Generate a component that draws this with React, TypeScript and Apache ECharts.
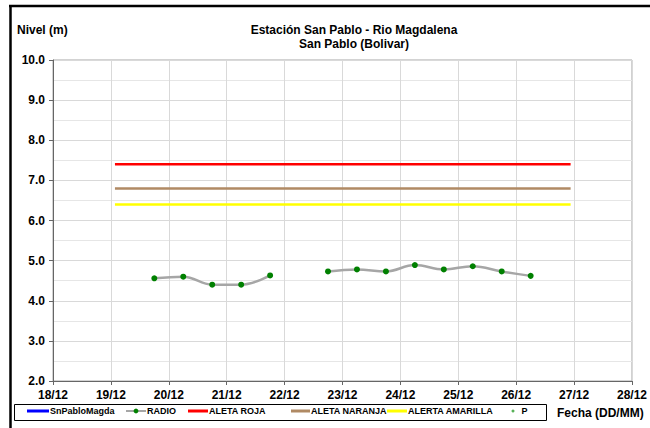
import React, { useEffect, useRef } from "react";
import * as echarts from "echarts";

// x values are days since 18/12 00:00
const xTickLabels = ["18/12", "19/12", "20/12", "21/12", "22/12", "23/12", "24/12", "25/12", "26/12", "27/12", "28/12"];
const radioX = [1.75, 2.25, 2.75, 3.25, 3.75, 4.25, 4.75, 5.25, 5.75, 6.25, 6.75, 7.25, 7.75, 8.25];
const radioY: (number | null)[] = [4.56, 4.6, 4.4, 4.4, 4.63, null, 4.73, 4.78, 4.73, 4.89, 4.78, 4.86, 4.73, 4.62];
const alertX = [1.07, 8.94];
const alertaRoja = [7.4, 7.4];
const alertaNaranja = [6.8, 6.8];
const alertaAmarilla = [6.4, 6.4];
const seriesNames = ["SnPabloMagda", "RADIO", "ALETA ROJA", "ALETA NARANJA", "ALERTA AMARILLA", "P"];

const FONT = "'Liberation Sans', Arial, sans-serif";

export default function App() {
  const ref = useRef<HTMLDivElement>(null);
  useEffect(() => {
    document.body.style.margin = "0";
    if (!ref.current) return;
    const chart = echarts.init(ref.current, undefined, { renderer: "svg" });
    const legendLeft = [27, 125, 188, 291, 387, 511.5];
    const legendW = [22, 20, 20, 19, 20, 3];
    const legends = seriesNames.map((n, i) => ({
      data: [n],
      left: legendLeft[i],
      top: 406.5,
      padding: 0,
      icon: i === 1 ? undefined : i === 5 ? "circle" : "rect",
      itemWidth: legendW[i],
      itemHeight: i === 1 ? 6 : 3,
      textStyle: {
        fontSize: 9,
        fontWeight: "bold",
        color: "#000",
        fontFamily: FONT,
        padding: i === 5 ? [0, 0, 0, 2] : [0, 0, 0, -4],
      },
      selectedMode: false,
    }));
    const pairs = (xs: number[], ys: (number | null)[]) => xs.map((x, i) => [x, ys[i] === null ? "-" : ys[i]]);
    chart.setOption({
      animation: false,
      backgroundColor: "#fff",
      textStyle: { fontFamily: FONT },
      grid: { left: 53, right: 17, top: 60, bottom: 47, show: true, borderColor: "#a6a6a6", borderWidth: 1 },
      title: [
        {
          text: "Estación San Pablo - Rio Magdalena\nSan Pablo (Bolivar)",
          left: 349,
          textAlign: "center",
          top: 18,
          textStyle: { fontSize: 12, fontWeight: "bold", color: "#000", lineHeight: 14, fontFamily: FONT },
        },
      ],
      legend: legends,
      xAxis: {
        type: "value",
        min: 0,
        max: 10,
        interval: 1,
        axisLine: { show: true, lineStyle: { color: "#666", width: 1 } },
        axisTick: { show: true, length: 4, lineStyle: { color: "#666" } },
        axisLabel: {
          formatter: (v: number) => xTickLabels[Math.round(v)] ?? "",
          fontSize: 12,
          fontWeight: "bold",
          color: "#000",
          margin: 8,
          fontFamily: FONT,
        },
        splitLine: { show: true, lineStyle: { color: "#d9d9d9", width: 1 } },
      },
      yAxis: {
        type: "value",
        min: 2,
        max: 10,
        interval: 1,
        axisLine: { show: true, lineStyle: { color: "#666", width: 1 } },
        axisTick: { show: true, length: 4, lineStyle: { color: "#666" } },
        axisLabel: {
          formatter: (v: number) => v.toFixed(1),
          fontSize: 12,
          fontWeight: "bold",
          color: "#000",
          margin: 8,
          fontFamily: FONT,
        },
        splitLine: { show: true, lineStyle: { color: "#d9d9d9", width: 1 } },
        minorTick: { show: false, splitNumber: 2 },
        minorSplitLine: { show: true, lineStyle: { color: "#e6e6e6", width: 1 } },
      },
      series: [
        { name: seriesNames[0], type: "line", data: [], symbol: "none", itemStyle: { color: "#0000ff" }, lineStyle: { color: "#0000ff", width: 2 } },
        {
          name: seriesNames[1],
          type: "line",
          data: pairs(radioX, radioY),
          smooth: 0.4,
          connectNulls: false,
          symbol: "circle",
          symbolSize: 6,
          itemStyle: { color: "#008000" },
          lineStyle: { color: "#a6a6a6", width: 2.5 },
          z: 5,
        },
        { name: seriesNames[2], type: "line", data: pairs(alertX, alertaRoja), symbol: "none", itemStyle: { color: "#ff0000" }, lineStyle: { color: "#ff0000", width: 2.5 } },
        { name: seriesNames[3], type: "line", data: pairs(alertX, alertaNaranja), symbol: "none", itemStyle: { color: "#b08a64" }, lineStyle: { color: "#b08a64", width: 2.5 } },
        { name: seriesNames[4], type: "line", data: pairs(alertX, alertaAmarilla), symbol: "none", itemStyle: { color: "#ffff00" }, lineStyle: { color: "#ffff00", width: 2.5 } },
        { name: seriesNames[5], type: "scatter", data: [], symbolSize: 3, itemStyle: { color: "#2e9e2e" } },
      ],
      graphic: [
        { type: "line", shape: { x1: 9, y1: 6, x2: 650, y2: 6 }, style: { stroke: "#000", lineWidth: 2.5 } },
        { type: "line", shape: { x1: 10.5, y1: 6, x2: 10.5, y2: 428 }, style: { stroke: "#000", lineWidth: 2.5 } },
        { type: "rect", shape: { x: 14.5, y: 404.5, width: 532, height: 16 }, style: { fill: "none", stroke: "#000", lineWidth: 1 }, z: -1 },
        {
          type: "text",
          left: 17,
          top: 24,
          style: { text: "Nivel (m)", fontSize: 12, fontWeight: "bold", fill: "#000", fontFamily: FONT },
        },
        {
          type: "text",
          left: 557,
          top: 407,
          style: { text: "Fecha (DD/MM)", fontSize: 12, fontWeight: "bold", fill: "#000", fontFamily: FONT },
        },
      ],
    });
    return () => chart.dispose();
  }, []);
  return <div ref={ref} style={{ width: 650, height: 428 }} />;
}
